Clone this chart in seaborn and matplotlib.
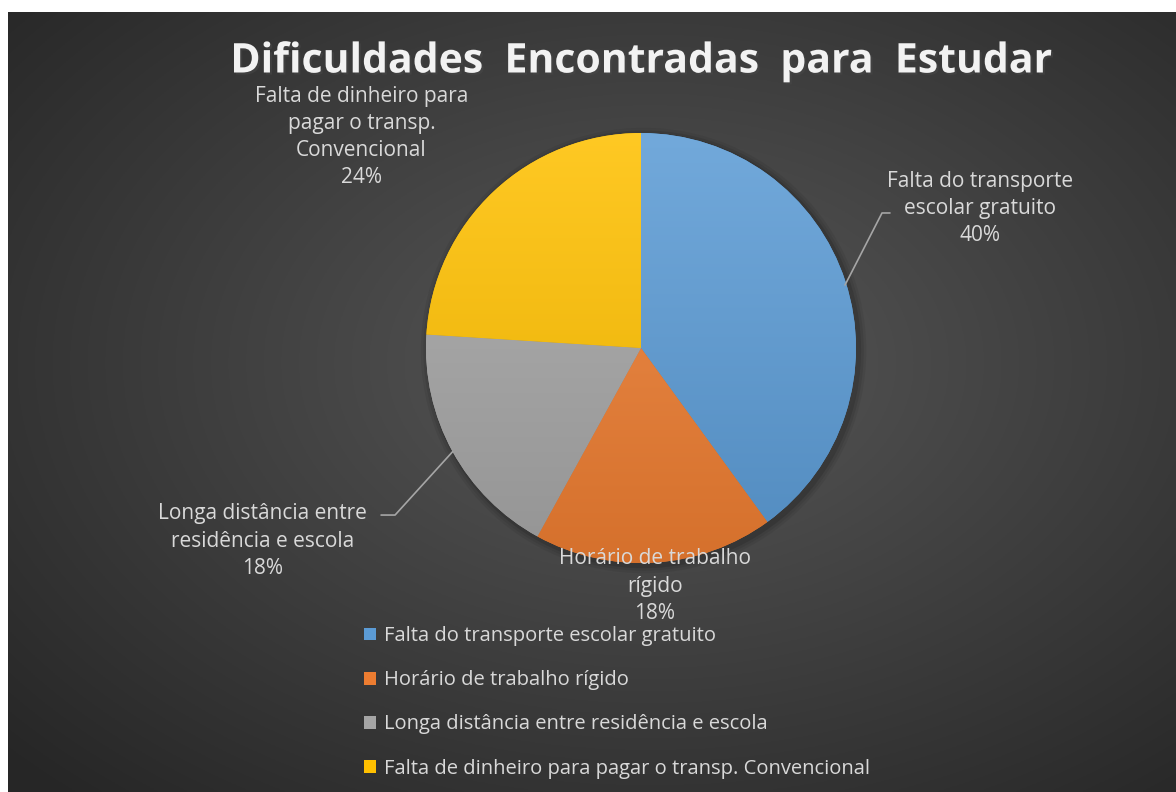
import numpy as np
import matplotlib
matplotlib.use("Agg")
import matplotlib.pyplot as plt
import matplotlib.patheffects as pe
from matplotlib.colors import to_rgb
from matplotlib.patches import Patch, Circle
import seaborn as sns

categories = [
    "Falta do transporte escolar gratuito",
    "Horário de trabalho rígido",
    "Longa distância entre residência e escola",
    "Falta de dinheiro para pagar o transp. Convencional",
]
slice_labels = [
    "Falta do transporte\nescolar gratuito",
    "Horário de trabalho\nrígido",
    "Longa distância entre\nresidência e escola",
    "Falta de dinheiro para\npagar o transp.\nConvencional",
]
values = [40, 18, 18, 24]
colors = ["#5B9BD5", "#ED7D31", "#A5A5A5", "#FFC000"]

sns.set_style("dark")
plt.rcParams["font.family"] = ["Open Sans", "DejaVu Sans"]

W, H = 1176, 792
fig = plt.figure(figsize=(W / 100, H / 100), dpi=100)
fig.patch.set_facecolor("white")

# dark radial gradient background
bg = fig.add_axes([8 / W, 0, 1 - 8 / W, (H - 12) / H])
yy, xx = np.mgrid[0:1:400j, 0:1:600j]
r = np.sqrt(((xx - 0.55) / 0.75) ** 2 + ((yy - 0.45) / 0.75) ** 2)
r = np.clip(r, 0, 1)
shade = 0.345 - (0.345 - 0.15) * r
bg.imshow(np.dstack([shade, shade, shade]), aspect="auto", extent=[0, 1, 0, 1], origin="upper")
bg.set_axis_off()

# pie axes: 1 data unit = 215 px
cx, cy, R = 641, 348, 215
ax = fig.add_axes([(cx - 2 * R) / W, (H - cy - 2 * R) / H, 4 * R / W, 4 * R / H])

# soft shadow under the pie
for k, a in enumerate([0.10, 0.08, 0.06]):
    ax.add_patch(Circle((0.012, -0.012), 1.0 + 0.012 * (k + 1), color="black",
                        alpha=a, lw=0, zorder=0))

wedges, _ = ax.pie(values, colors=colors, startangle=90, counterclock=False,
                   radius=1, wedgeprops=dict(edgecolor="none"))
ax.set_aspect("auto")
ax.set_xlim(-2, 2)
ax.set_ylim(-2, 2)
ax.set_axis_off()

# vertical gradient fill on each slice
t = np.linspace(0, 1, 256)[:, None]
for w, c in zip(wedges, colors):
    base = np.array(to_rgb(c))
    top = base + (1 - base) * 0.14
    bot = base * 0.90
    grad = top[None, None, :] * (1 - t[..., None]) + bot[None, None, :] * t[..., None]
    grad = np.repeat(grad, 2, axis=1)
    im = ax.imshow(grad, extent=[-1, 1, -1, 1], aspect="auto", origin="upper", zorder=w.get_zorder())
    im.set_clip_path(w)
ax.set_xlim(-2, 2)
ax.set_ylim(-2, 2)

pct = [f"{v}%" for v in values]
label_pos = [(1.577, 0.650), (0.065, -1.107), (-1.760, -0.898), (-1.300, 0.981)]
txt_color = "#d9d9d9"
for lab, p, (x, y) in zip(slice_labels, pct, label_pos):
    ax.text(x, y, lab + "\n" + p, ha="center", va="center", color=txt_color,
            fontsize=15, linespacing=1.38, zorder=5)

# leader lines
lc = "#a6a6a6"
ax.plot([0.949, 1.121, 1.158], [0.293, 0.628, 0.628], color=lc, lw=1.2, zorder=4)
ax.plot([-0.876, -1.144, -1.209], [-0.482, -0.777, -0.777], color=lc, lw=1.2, zorder=4)

fig.text(642 / W, 1 - 62 / H, "Dificuldades  Encontradas  para  Estudar",
         ha="center", va="center", color="#f2f2f2", fontsize=29.5, fontweight="bold",
         path_effects=[pe.withSimplePatchShadow(offset=(1.5, -1.5), alpha=0.5)])

handles = [Patch(facecolor=c, edgecolor="none") for c in colors]
fig.legend(handles, categories, loc="upper left", bbox_to_anchor=(346 / W, 1 - 608 / H),
           frameon=False, fontsize=14.5, labelcolor=txt_color, labelspacing=1.2,
           handlelength=0.6, handleheight=0.6, handletextpad=0.4)

fig.savefig("out.png", dpi=100)
